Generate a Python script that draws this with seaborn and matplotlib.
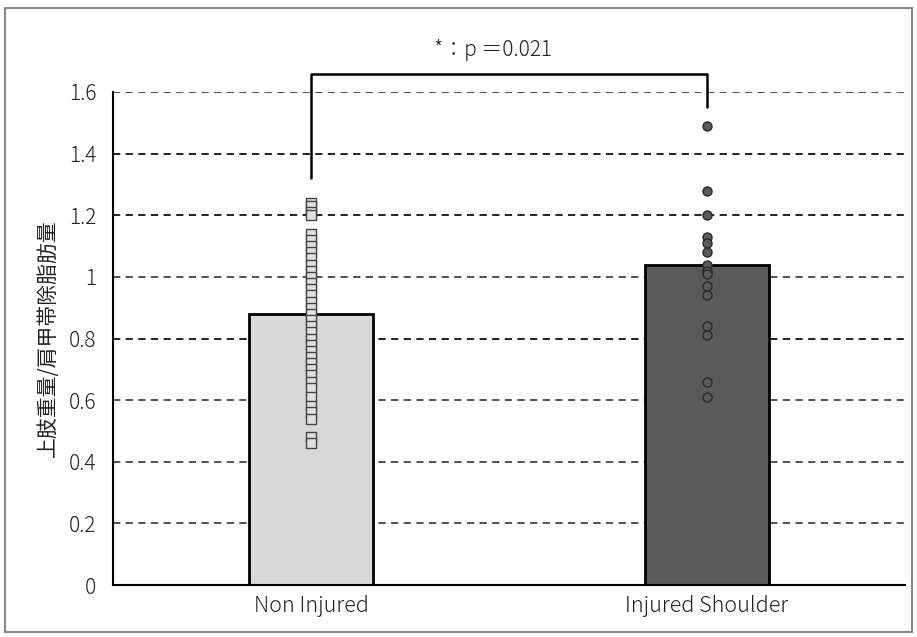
import pandas as pd
import numpy as np
import matplotlib.pyplot as plt
import seaborn as sns
from matplotlib.patches import Rectangle

categories = ["Non Injured", "Injured Shoulder"]
bar_means = [0.88, 1.04]

non_injured = [1.24, 1.23, 1.21, 1.20,
               1.14, 1.12, 1.10, 1.08, 1.06, 1.04, 1.02, 1.00, 0.98, 0.96,
               0.94, 0.92, 0.90, 0.88, 0.86, 0.84, 0.82, 0.80, 0.78, 0.76,
               0.74, 0.72, 0.70, 0.68, 0.66, 0.64, 0.61, 0.58, 0.56, 0.54,
               0.48, 0.46]
injured = [1.49, 1.28, 1.20, 1.13, 1.11, 1.08, 1.04, 1.02, 1.01,
           0.97, 0.94, 0.84, 0.81, 0.66, 0.61]

y_ticks = [0, 0.2, 0.4, 0.6, 0.8, 1.0, 1.2, 1.4, 1.6]
y_ticklabels = ["0", "0.2", "0.4", "0.6", "0.8", "1", "1.2", "1.4", "1.6"]
p_text = "*：p ＝0.021"
ylabel = "上肢重量/肩甲帯除脂肪量"

sns.set_style("white")
plt.rcParams["font.family"] = ["Noto Sans CJK JP", "DejaVu Sans"]
plt.rcParams["font.weight"] = "light"

bars = pd.DataFrame({"group": categories, "value": bar_means})
pts_a = pd.DataFrame({"group": categories[0], "value": non_injured})
pts_b = pd.DataFrame({"group": categories[1], "value": injured})

fig = plt.figure(figsize=(9.17, 6.37), dpi=100)
ax = fig.add_axes([113 / 917, 1 - 585 / 637, 792 / 917, (585 - 92) / 637])

# dashed grid behind bars (some lines print lighter in the reference)
for t in y_ticks[1:]:
    shade = "#111111" if t in (0.8, 1.2, 1.4) else "#444444"
    ax.axhline(t, color=shade, lw=1.3, ls=(0, (4, 3)), zorder=0)

sns.barplot(data=bars, x="group", y="value", order=categories,
            palette=["#d9d9d9", "#5a5a5a"], hue="group", legend=False,
            width=0.315, edgecolor="black", linewidth=2, ax=ax, zorder=2)

sns.stripplot(data=pts_a, x="group", y="value", order=categories, jitter=False,
              marker="s", size=7, color="#e0e0e0", edgecolor="#444444",
              linewidth=1, ax=ax, zorder=3)
sns.stripplot(data=pts_b, x="group", y="value", order=categories, jitter=False,
              marker="o", size=6.5, color="#5a5a5a", edgecolor="#2a2a2a",
              linewidth=1, ax=ax, zorder=3)

ax.set_xlim(-0.5, 1.5)
ax.set_ylim(0, 1.6)
ax.set_yticks(y_ticks)
ax.set_yticklabels(y_ticklabels, fontsize=15, color="#222222")
ax.tick_params(axis="both", length=0)
ax.tick_params(axis="y", pad=12)
ax.tick_params(axis="x", labelsize=15.5, pad=7, labelcolor="#222222")
ax.set_xlabel("")
ax.set_ylabel(ylabel, fontsize=15, color="#222222", labelpad=7)

for s in ["top", "right"]:
    ax.spines[s].set_visible(False)
for s in ["left", "bottom"]:
    ax.spines[s].set_color("black")
    ax.spines[s].set_linewidth(1.5)

# significance bracket
ax.plot([0, 0, 1, 1], [1.32, 1.66, 1.66, 1.55], color="black", lw=1.8,
        clip_on=False, zorder=4)
ax.text(0.46, 1.70, p_text, ha="center", va="bottom", fontsize=15,
        color="#222222", clip_on=False)

fig.patches.append(Rectangle((5 / 917, 5 / 637), 907 / 917, 624 / 637,
                             transform=fig.transFigure, fill=False,
                             edgecolor="#888888", lw=1.5))

fig.savefig("out.png", dpi=100)
